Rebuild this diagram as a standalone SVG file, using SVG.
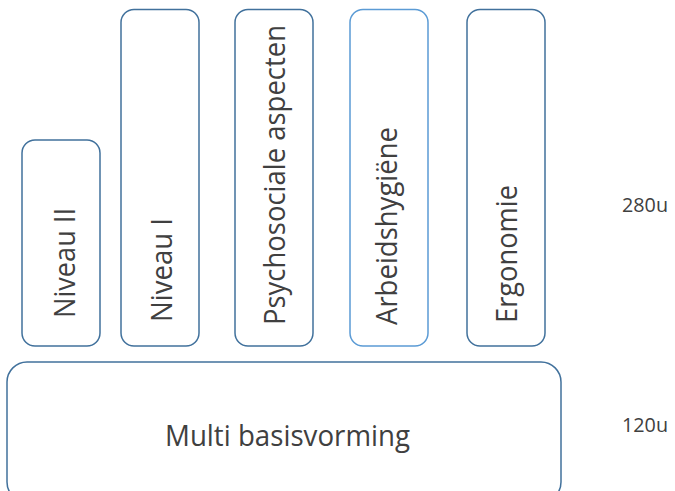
<svg xmlns="http://www.w3.org/2000/svg" width="675" height="491" viewBox="0 0 675 491">
<style>
.box{fill:#ffffff;stroke:#41719c;stroke-width:1.5}
.light{stroke:#5b9bd5}
.lbl{font-family:"Open Sans","Liberation Sans",sans-serif;font-size:29px;fill:#404040}
.side{font-family:"Open Sans","Liberation Sans",sans-serif;font-size:20px;fill:#404040}
</style>
<rect width="675" height="491" fill="#ffffff"/>
<g id="niveau2">
<rect class="box" x="22" y="140" width="78" height="206" rx="13"/>
<text class="lbl" transform="translate(75,318) rotate(-90)" textLength="110" lengthAdjust="spacingAndGlyphs">Niveau II</text>
</g>
<g id="niveau1">
<rect class="box" x="121" y="9.5" width="78" height="336.5" rx="13"/>
<text class="lbl" transform="translate(172,322) rotate(-90)" textLength="104" lengthAdjust="spacingAndGlyphs">Niveau I</text>
</g>
<g id="psychosociale">
<rect class="box" x="235" y="9.5" width="78" height="336.5" rx="13"/>
<text class="lbl" transform="translate(285,325) rotate(-90)" textLength="300" lengthAdjust="spacingAndGlyphs">Psychosociale aspecten</text>
</g>
<g id="arbeidshygiene">
<rect class="box light" x="350" y="9.5" width="78" height="336.5" rx="13"/>
<text class="lbl" transform="translate(397,325) rotate(-90)" textLength="198" lengthAdjust="spacingAndGlyphs">Arbeidshygiëne</text>
</g>
<g id="ergonomie">
<rect class="box" x="467" y="9.5" width="78" height="336.5" rx="13"/>
<text class="lbl" transform="translate(517,323) rotate(-90)" textLength="138" lengthAdjust="spacingAndGlyphs">Ergonomie</text>
</g>
<g id="multi">
<rect class="box" x="7" y="362" width="554" height="140" rx="20"/>
<text class="lbl" x="165" y="446" textLength="245" lengthAdjust="spacingAndGlyphs">Multi basisvorming</text>
</g>
<g id="labels">
<text class="side" x="622" y="212" textLength="46" lengthAdjust="spacingAndGlyphs">280u</text>
<text class="side" x="622" y="432" textLength="46" lengthAdjust="spacingAndGlyphs">120u</text>
</g>
<g id="connectors"/>
</svg>
